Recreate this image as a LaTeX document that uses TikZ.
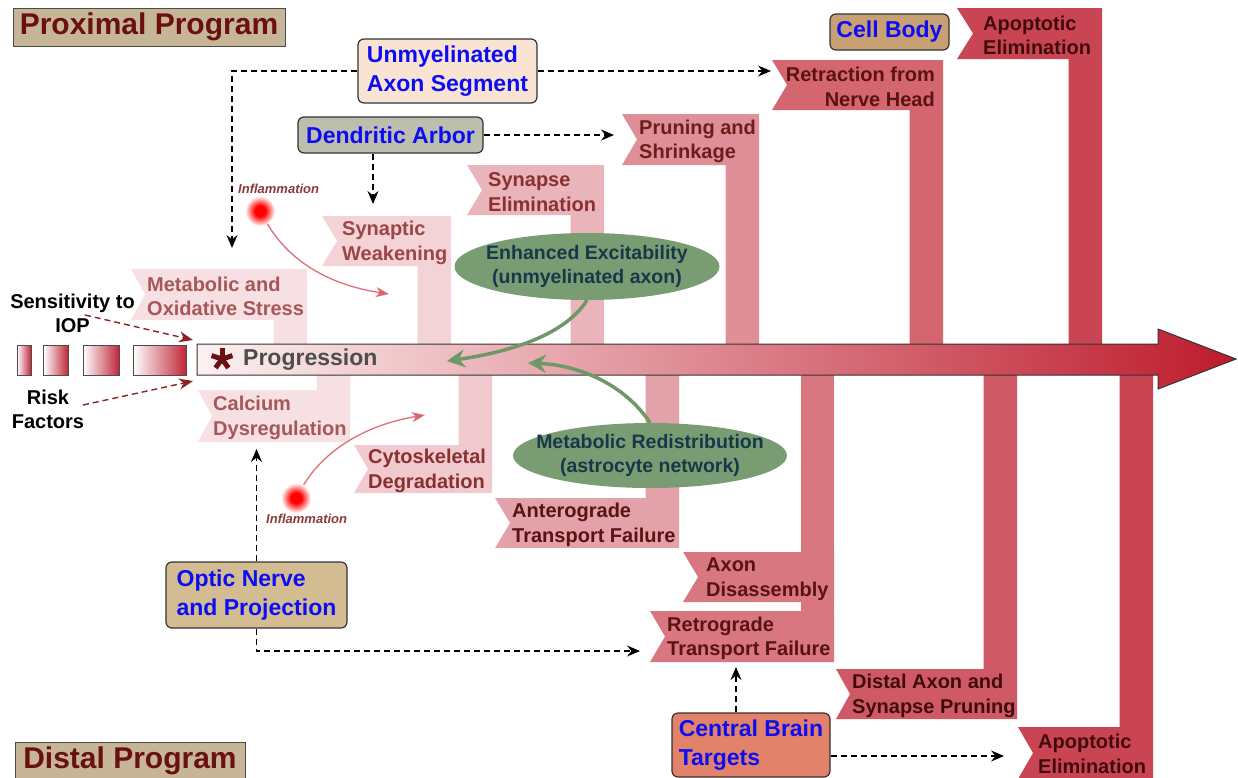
\documentclass[tikz,border=0pt]{standalone}
\usepackage{fontspec}
\setmainfont{Liberation Sans}
\usetikzlibrary{arrows.meta,shapes.geometric}
\definecolor{titlefill}{HTML}{C6B697}
\definecolor{titletext}{HTML}{6B1010}
\definecolor{catblue}{HTML}{0D0DF2}
\definecolor{unmyfill}{HTML}{F9E3D2}
\definecolor{dendfill}{HTML}{BEBEAF}
\definecolor{cellfill}{HTML}{C9A074}
\definecolor{opticfill}{HTML}{D4BC92}
\definecolor{brainfill}{HTML}{E3826B}
\definecolor{ellgreen}{HTML}{7A9C72}
\definecolor{elltext}{HTML}{17384A}
\definecolor{arrgreen}{HTML}{6E9868}
\definecolor{riskred}{HTML}{8B2323}
\definecolor{riskR}{HTML}{C0283A}
\definecolor{inflam}{HTML}{8B3A3A}
\definecolor{inflarrow}{HTML}{DD6E7A}
\definecolor{rA}{HTML}{F7E0E3}
\definecolor{rB}{HTML}{F4D3D7}
\definecolor{rC}{HTML}{F1CACF}
\definecolor{rD}{HTML}{E9B5BB}
\definecolor{rE}{HTML}{E3A2A9}
\definecolor{rF}{HTML}{DF8F98}
\definecolor{rG}{HTML}{D8777F}
\definecolor{rH}{HTML}{D46670}
\definecolor{rI}{HTML}{CF5A66}
\definecolor{rJ}{HTML}{C94553}
\definecolor{tA}{HTML}{A65858}
\definecolor{tB}{HTML}{9A4646}
\definecolor{tC}{HTML}{8A3030}
\definecolor{tD}{HTML}{6E1C1C}
\definecolor{tE}{HTML}{5A1212}
\definecolor{tF}{HTML}{420B0B}
\definecolor{arrowL}{HTML}{FCF1F2}
\definecolor{arrowR}{HTML}{BE1B2C}
\definecolor{progtext}{HTML}{4D4D4D}
\pgfdeclareradialshading{glow}{\pgfpoint{0bp}{0bp}}{color(0bp)=(red); color(9bp)=(red); color(25bp)=(white); color(50bp)=(white)}
\newcommand\ribup[6]{%
  \fill[#6] (#1,#2) -- (#4,#2) -- (#4,360) -- ({#4-33.5},360) -- ({#4-33.5},#3) -- (#1,#3) -- (#5,{(#2+#3)/2}) -- cycle;}
\newcommand\ribdown[6]{%
  \fill[#6] ({#4-33.5},360) -- (#4,360) -- (#4,#3) -- (#1,#3) -- (#5,{(#2+#3)/2}) -- (#1,#2) -- ({#4-33.5},#2) -- cycle;}
\begin{document}
\begin{tikzpicture}[x=1pt,y=-1pt,
  flagtext/.style={anchor=west, align=left, inner sep=0pt, yshift=-2pt, font=\fontsize{20}{24.5}\selectfont\bfseries},
  catbox/.style={draw=black!80, line width=1.2pt, rounded corners=6pt, align=left, text=catblue, inner sep=0pt, font=\fontsize{23}{28.5}\selectfont\bfseries},
  titlebox/.style={draw=black!70, line width=1pt, fill=titlefill, text=titletext, inner sep=0pt, font=\fontsize{30}{36}\selectfont\bfseries},
  ellbox/.style={ellipse, fill=ellgreen, inner sep=0pt},
  elltxt/.style={align=center, text=elltext, inner sep=0pt, font=\fontsize{19.5}{24}\selectfont\bfseries},
  labeltext/.style={align=center, inner sep=0pt, font=\fontsize{20}{24}\selectfont\bfseries},
  inftext/.style={anchor=base west, inner sep=0pt, text=inflam, font=\fontsize{13}{15}\selectfont\bfseries\itshape},
  dasharrow/.style={draw=black, line width=1.2pt, dash pattern=on 6pt off 4pt, -{Stealth[length=13pt,width=11pt,inset=4.5pt]}},
  riskarrow/.style={draw=riskred, line width=1.4pt, dash pattern=on 6pt off 4pt, -{Stealth[length=14pt,width=11pt,inset=4.5pt]}},
  greenarrow/.style={draw=arrgreen, line width=3.5pt, -{Stealth[length=18pt,width=18pt,inset=6pt]}},
  inflline/.style={draw=inflarrow, line width=1.3pt, -{Stealth[length=13pt,width=10pt,inset=3.5pt,fill=inflarrow!80!red]}},
  glowdot/.style={circle, shade, shading=glow, minimum size=30pt, inner sep=0pt}
]
\useasboundingbox (0,0) rectangle (1238,777);

% ribs (upper)
\ribup{131}{269}{320}{307}{145}{rA}
\ribup{322}{216}{266}{451}{337}{rB}
\ribup{467}{165}{215}{604}{482}{rD}
\ribup{622}{114}{165}{759}{637}{rF}
\ribup{772}{60}{110}{943}{787}{rH}
\ribup{957}{8}{59}{1102}{973}{rJ}
% ribs (lower)
\ribdown{198}{390}{442}{350}{212}{rA}
\ribdown{354}{445}{493}{492}{368}{rC}
\ribdown{495}{498}{548}{679}{510}{rE}
\fill[rG] (800.5,360) rectangle (834,662);
\fill[rG] (683,552) -- (834,552) -- (834,602) -- (683,602) -- (698,577) -- cycle;
\fill[rG] (650,611) -- (834,611) -- (834,662) -- (650,662) -- (665,636.5) -- cycle;
\ribdown{836}{669}{719}{1017}{850}{rI}
\ribdown{1018}{727}{779}{1153}{1033}{rJ}

% main arrow
\shadedraw[left color=arrowL, right color=arrowR, draw=black!80, line width=1pt]
  (197,344) -- (1158,344) -- (1158,329) -- (1236,359) -- (1158,389) -- (1158,375) -- (197,375) -- cycle;

% flag texts
\node[flagtext,text=tA] (metab) at (147,294.5) {Metabolic and\\Oxidative Stress};
\node[flagtext,text=tB] (synw) at (342,241) {Synaptic\\Weakening};
\node[flagtext,text=tC] (syne) at (488,190) {Synapse\\Elimination};
\node[flagtext,text=tD] (prun) at (639,139.5) {Pruning and\\Shrinkage};
\node[flagtext,anchor=east,align=right,text=tE] (retr) at (935,85) {Retraction from\\Nerve Head};
\node[flagtext,text=tF] (apopA) at (983,33.5) {Apoptotic\\Elimination};
\node[flagtext,text=tA] (calc) at (213,416) {Calcium\\Dysregulation};
\node[flagtext,text=tC] (cyto) at (368,469) {Cytoskeletal\\Degradation};
\node[flagtext,text=tE] (antero) at (512,523) {Anterograde\\Transport Failure};
\node[flagtext,text=tE] (axon) at (706,577) {Axon\\Disassembly};
\node[flagtext,text=tE] (retro) at (667,636.5) {Retrograde\\Transport Failure};
\node[flagtext,text=tF] (distal) at (852,694) {Distal Axon and\\Synapse Pruning};
\node[flagtext,text=tF] (apopB) at (1038,752) {Apoptotic\\Elimination};

% ellipses
\node[ellbox, minimum width=265pt, minimum height=67pt] (exc) at (587,266.5) {};
\node[elltxt] (exctxt) at (exc.center) {Enhanced Excitability\\(unmyelinated axon)};
\node[ellbox, minimum width=274pt, minimum height=65pt] (met) at (650,455.5) {};
\node[elltxt] (mettxt) at (met.center) {Metabolic Redistribution\\(astrocyte network)};
\coordinate (excto) at (447,361);
\coordinate (metto) at (528,363);
\draw[greenarrow] (exc.south) .. controls (565,335) and (510,352) .. (excto);
\draw[greenarrow] (met.north) .. controls (625,385) and (580,365) .. (metto);

% titles
\node[titlebox, minimum width=272pt, minimum height=38pt] (prox) at (149,27) {Proximal Program};
\node[titlebox, minimum width=230pt, minimum height=38pt] (dist) at (130,761) {Distal Program};

% category boxes
\node[catbox, fill=unmyfill, minimum width=179pt, minimum height=64pt] (unmy) at (447.5,71) {\raisebox{-2pt}{Unmyelinated}\\\raisebox{-2pt}{Axon Segment}};
\node[catbox, fill=dendfill, minimum width=185pt, minimum height=36pt] (dend) at (390.5,135) {Dendritic Arbor};
\node[catbox, fill=cellfill, minimum width=119pt, minimum height=36pt] (cell) at (889.5,32) {Cell Body};
\node[catbox, fill=opticfill, minimum width=181pt, minimum height=66pt] (optic) at (256.5,595) {\raisebox{-2pt}{Optic Nerve}\\\raisebox{-2pt}{and Projection}};
\node[catbox, fill=brainfill, minimum width=158pt, minimum height=64pt] (brain) at (751,745) {\raisebox{-2pt}{Central Brain}\\\raisebox{-2pt}{Targets}};

% dashed connectors
\coordinate (metabin) at (232,248);
\coordinate (retrin) at (771,71);
\coordinate (prunin) at (614,135);
\coordinate (synin) at (373,204);
\coordinate (calcin) at (256.5,449);
\coordinate (retroin) at (640,651);
\coordinate (retroup) at (736,667);
\coordinate (apin) at (1004,756);
\draw[dasharrow] (unmy.west) -| (metabin);
\draw[dasharrow] (unmy.east) -- (retrin);
\draw[dasharrow] (dend.east) -- (prunin);
\draw[dasharrow] (dend.south -| synin) -- (synin);
\draw[dasharrow] (optic.north) -- (calcin);
\draw[dasharrow] (optic.south) |- (retroin);
\draw[dasharrow] (brain.north -| retroup) -- (retroup);
\draw[dasharrow] (brain.east |- apin) -- (apin);

% inflammation
\node[glowdot] (dotA) at (260,211) {};
\node[inftext] (infA) at (238,193) {Inflammation};
\coordinate (infAto) at (389,294);
\draw[inflline] (dotA.-60) .. controls (290,262) and (330,285) .. (infAto);
\node[glowdot] (dotB) at (296,498) {};
\node[inftext] (infB) at (266,523) {Inflammation};
\coordinate (infBto) at (425,415);
\draw[inflline] (dotB.60) .. controls (325,450) and (365,425) .. (infBto);

% risk factors
\shadedraw[left color=white, right color=riskR, draw=black!70, line width=0.8pt] (17,345) rectangle (31,375);
\shadedraw[left color=white, right color=riskR, draw=black!70, line width=0.8pt] (43.5,345) rectangle (68,375);
\shadedraw[left color=white, right color=riskR, draw=black!70, line width=0.8pt] (83,345) rectangle (119,375);
\shadedraw[left color=white, right color=riskR, draw=black!70, line width=0.8pt] (133,345) rectangle (186,375);
\node[labeltext] (sens) at (72.5,313) {Sensitivity to\\IOP};
\node[labeltext] (risk) at (48,409) {Risk\\Factors};
\coordinate (sensfrom) at (85,315);
\coordinate (riskfrom) at (83,405);
\coordinate (progA) at (193,340);
\coordinate (progB) at (193,381);
\draw[riskarrow] (sensfrom) -- (progA);
\draw[riskarrow] (riskfrom) -- (progB);

% progression label
\node[anchor=base west, inner sep=0pt, text=progtext, font=\fontsize{23}{28}\selectfont\bfseries] (prog) at (243,365) {Progression};
\foreach \a in {90,162,234,306,18} \draw[titletext, line width=5pt] (222,359) -- ++(\a:11pt);
\end{tikzpicture}
\end{document}
